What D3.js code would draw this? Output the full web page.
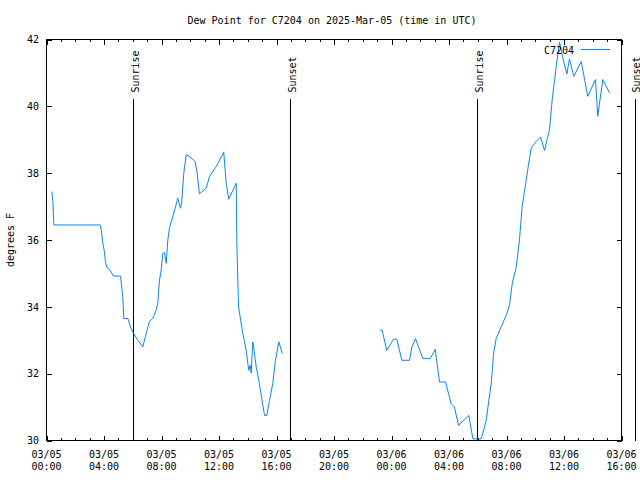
<!DOCTYPE html>
<html>
<head>
<meta charset="utf-8">
<script src="https://cdn.jsdelivr.net/npm/d3@7"></script>
<style>
  html, body { margin: 0; padding: 0; background: #fff; }
  svg { display: block; }
  text { font-family: "DejaVu Sans Mono", "Liberation Mono", monospace; font-size: 10px; fill: #000; }
</style>
</head>
<body>
<svg id="chart" width="640" height="480"></svg>
<script>
// ---- data (hours after 2025-03-05 00:00 UTC) ----
const title = "Dew Point for C7204 on 2025-Mar-05 (time in UTC)";
const yLabel = "degrees F";
const seriesName = "C7204";

const hours = [
  0.37, 0.44, 0.51, 3.74, 3.81, 3.92, 4.03, 4.10, 4.19, 4.38, 4.66, 5.15, 5.22, 5.31, 5.38, 5.66,
  5.84, 6.00, 6.35, 6.70, 6.87, 7.17, 7.39, 7.63, 7.74, 7.86, 7.98, 8.09, 8.21, 8.33, 8.44, 8.56,
  8.79, 8.95, 9.13, 9.32, 9.41, 9.55, 9.72, 9.95, 10.34, 10.48, 10.64, 11.11, 11.34, 11.81, 12.33,
  12.50, 12.68, 13.20, 13.24, 13.36, 13.47, 13.66, 13.89, 14.07, 14.17, 14.24, 14.35, 14.42, 14.59,
  14.77, 14.94, 15.17, 15.33, 15.51, 15.74, 15.93, 16.16, 16.26, 16.40,
  19.80,
  23.21, 23.35, 23.67, 24.14, 24.37, 24.72, 25.25, 25.41, 25.67, 26.18, 26.69, 27.04, 27.34, 27.76,
  28.15, 28.38, 28.66, 29.38, 29.66, 30.24, 30.59, 30.77, 30.94, 31.10, 31.28, 31.63, 31.98, 32.21,
  32.40, 32.68, 32.90, 33.09, 33.32, 33.55, 33.72, 34.07, 34.37, 34.64, 34.99, 35.18, 35.46, 35.69,
  35.97, 36.20, 36.38, 36.68, 37.20, 37.65, 38.19, 38.35, 38.52, 38.70, 39.17
];
const dewPoint = [
  37.45, 37.18, 36.45, 36.45, 36.30, 35.90, 35.65, 35.35, 35.18, 35.12, 34.92, 34.92, 34.65, 34.25, 33.65, 33.65,
  33.40, 33.25, 33.00, 32.80, 33.10, 33.57, 33.65, 33.90, 34.10, 34.80, 35.10, 35.60, 35.62, 35.30, 36.00, 36.38,
  36.70, 36.95, 37.25, 36.95, 37.15, 38.00, 38.55, 38.50, 38.35, 38.00, 37.38, 37.55, 37.90, 38.20, 38.63,
  37.70, 37.22, 37.70, 35.90, 34.00, 33.70, 33.20, 32.70, 32.10, 32.25, 32.02, 32.95, 32.75, 32.20,
  31.80, 31.35, 30.75, 30.75, 31.20, 31.70, 32.40, 32.95, 32.82, 32.60,
  null,
  33.30, 33.30, 32.70, 33.03, 33.03, 32.40, 32.40, 32.78, 33.05, 32.45, 32.45, 32.73, 31.75, 31.75,
  31.10, 31.00, 30.45, 30.75, 30.05, 30.05, 30.60, 31.20, 31.70, 32.60, 33.05, 33.40, 33.75, 34.05,
  34.70, 35.20, 36.00, 37.00, 37.65, 38.30, 38.75, 38.95, 39.08, 38.68, 39.30, 40.20, 41.20, 41.92,
  41.35, 40.97, 41.42, 40.90, 41.34, 40.30, 40.80, 39.70, 40.25, 40.80, 40.40
];

const xTickHours = [0, 4, 8, 12, 16, 20, 24, 28, 32, 36, 40];
const xTickDates = ["03/05", "03/05", "03/05", "03/05", "03/05", "03/05", "03/06", "03/06", "03/06", "03/06", "03/06"];
const xTickTimes = ["00:00", "04:00", "08:00", "12:00", "16:00", "20:00", "00:00", "04:00", "08:00", "12:00", "16:00"];
const yTicks = [30, 32, 34, 36, 38, 40, 42];

const eventHours = [6.0, 16.93, 29.94, 40.93];
const eventLabels = ["Sunrise", "Sunset", "Sunrise", "Sunset"];

// ---- drawing ----
const svg = d3.select("#chart");
const L = 46.5, R = 621.5, T = 39.5, B = 440.5;
const x = d3.scaleLinear().domain([0, 40]).range([L, R]);
const y = d3.scaleLinear().domain([30, 42]).range([B, T]);
const color = "#0a84ff";

const data = hours.map((h, i) => ({ h, v: dewPoint[i] }));

// title
svg.append("text").attr("x", 332).attr("y", 24).attr("text-anchor", "middle").text(title);

// y label
svg.append("text").attr("transform", "translate(14,240) rotate(-90)")
  .attr("text-anchor", "middle").text(yLabel);

// axes with d3 axis generators (ticks inward)
const minorHours = d3.range(0, 41, 1);
const gx = svg.append("g").attr("transform", `translate(0,${B})`)
  .call(d3.axisBottom(x).tickValues(minorHours).tickSize(-2.5).tickFormat(""));
const gxM = svg.append("g").attr("transform", `translate(0,${B})`)
  .call(d3.axisBottom(x).tickValues(xTickHours).tickSize(-5).tickFormat(""));
const gxT = svg.append("g").attr("transform", `translate(0,${T})`)
  .call(d3.axisTop(x).tickValues(minorHours).tickSize(-2.5).tickFormat(""));
const gxTM = svg.append("g").attr("transform", `translate(0,${T})`)
  .call(d3.axisTop(x).tickValues(xTickHours).tickSize(-5).tickFormat(""));
const gy = svg.append("g").attr("transform", `translate(${L},0)`)
  .call(d3.axisLeft(y).tickValues(yTicks).tickSize(-5).tickFormat(""));
const gyR = svg.append("g").attr("transform", `translate(${R},0)`)
  .call(d3.axisRight(y).tickValues(yTicks).tickSize(-5).tickFormat(""));
[gx, gxM, gxT, gxTM, gy, gyR].forEach(g => {
  g.select(".domain").remove();
  g.selectAll("line").attr("stroke", "#000").attr("shape-rendering", "crispEdges");
});

// x tick labels (two lines)
const xl = svg.append("g");
xTickHours.forEach((h, i) => {
  const t = xl.append("text").attr("x", x(h)).attr("text-anchor", "middle");
  t.append("tspan").attr("x", x(h)).attr("y", 458).text(xTickDates[i]);
  t.append("tspan").attr("x", x(h)).attr("y", 470).text(xTickTimes[i]);
});

// y tick labels
svg.append("g").selectAll("text").data(yTicks).join("text")
  .attr("x", 39).attr("y", d => y(d) + 3.8).attr("text-anchor", "end").text(d => d);

// frame
svg.append("rect").attr("x", L).attr("y", T).attr("width", R - L).attr("height", B - T)
  .attr("fill", "none").attr("stroke", "#000").attr("shape-rendering", "crispEdges");

// sunrise / sunset markers
eventHours.forEach((h, i) => {
  const ex = Math.round(x(h)) + 0.5;
  svg.append("line").attr("x1", ex).attr("x2", ex).attr("y1", 99).attr("y2", B)
    .attr("stroke", "#000").attr("shape-rendering", "crispEdges");
  svg.append("text").attr("transform", `translate(${Math.min(ex + 5, 639.5)},92.5) rotate(-90)`)
    .attr("text-anchor", "start").text(eventLabels[i]);
});

// data line
const line = d3.line().defined(d => d.v != null).x(d => x(d.h)).y(d => y(d.v));
svg.append("path").datum(data).attr("d", line)
  .attr("fill", "none").attr("stroke", color).attr("stroke-width", 1);

// legend
svg.append("text").attr("x", 574).attr("y", 53.5).attr("text-anchor", "end").text(seriesName);
svg.append("line").attr("x1", 581).attr("x2", 610).attr("y1", 49.5).attr("y2", 49.5)
  .attr("stroke", color).attr("stroke-width", 1);
</script>
</body>
</html>
